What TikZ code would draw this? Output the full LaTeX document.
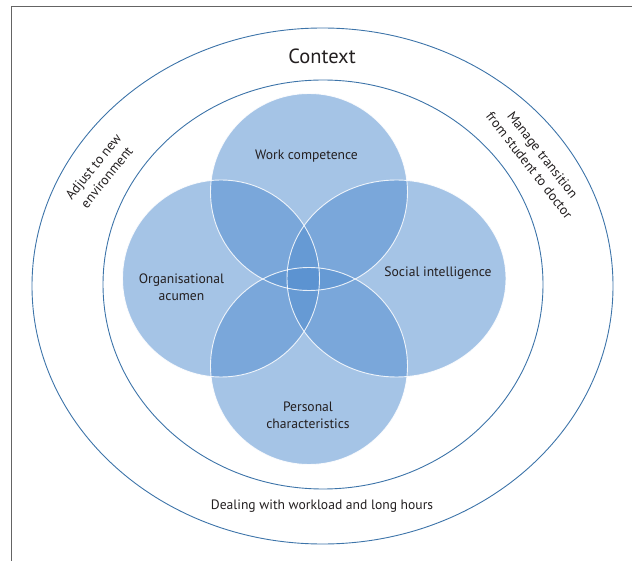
\documentclass[tikz,border=0pt]{standalone}
\usepackage{fontspec}
\setmainfont{PT Sans}
\definecolor{ringblue}{RGB}{61,116,169}
\definecolor{petalblue}{RGB}{83,141,207}
\definecolor{txt}{RGB}{35,31,32}
\definecolor{framecol}{RGB}{100,100,100}
\begin{document}
\begin{tikzpicture}[x=1pt,y=-1pt,
  ring/.style={draw=ringblue,line width=0.9pt},
  petal/.style={fill=petalblue,fill opacity=0.52},
  petaledge/.style={draw=white,line width=0.9pt,draw opacity=0.85},
  lbl/.style={text=txt,font=\fontsize{13.6}{17}\selectfont,align=center,inner sep=0pt}]
\useasboundingbox (0,0) rectangle (632,561);
\draw[framecol,line width=1pt] (11,561) -- (11,7) -- (632,7);
% rings
\draw[ring] (322.5,286) ellipse [x radius=290.5pt, y radius=258pt];
\draw[ring] (323,284.5) ellipse [x radius=220pt, y radius=204.5pt];
% petals
\fill[petal] (309,192) circle [radius=98.5pt];
\fill[petal] (221,278.5) circle [radius=98.5pt];
\fill[petal] (396.5,278.5) ellipse [x radius=109.5pt, y radius=98.5pt];
\fill[petal] (309,366) circle [radius=98.5pt];
\draw[petaledge] (309,192) circle [radius=98.5pt];
\draw[petaledge] (221,278.5) circle [radius=98.5pt];
\draw[petaledge] (396.5,278.5) ellipse [x radius=109.5pt, y radius=98.5pt];
\draw[petaledge] (309,366) circle [radius=98.5pt];
% labels
\node[lbl,font=\fontsize{20.5}{22}\selectfont] (context) at (322,56) {Context};
\node[lbl] (work) at (306.5,156) {Work competence};
\node[lbl] (org) at (181.5,287) {Organisational\\acumen};
\node[lbl] (social) at (438,273) {Social intelligence};
\node[lbl] (personal) at (308,415) {Personal\\characteristics};
\node[lbl] (dealing) at (322,506) {Dealing with workload and long hours};
\node[lbl,rotate=51] (adjust) at (100,172) {Adjust to new\\environment};
\node[lbl,rotate=-52] (manage) at (536,160) {Manage transition\\from student to doctor};
\end{tikzpicture}
\end{document}
